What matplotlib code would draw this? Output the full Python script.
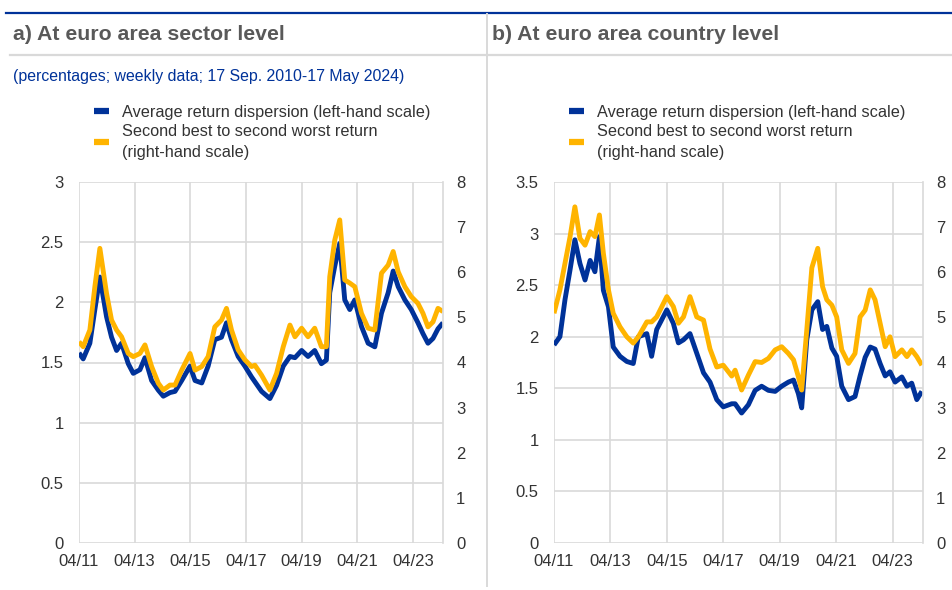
import matplotlib
matplotlib.use("Agg")
import matplotlib.pyplot as plt
from matplotlib.lines import Line2D

plt.rcParams['font.family'] = ['Liberation Sans', 'DejaVu Sans']

BLUE = "#003299"
YELLOW = "#ffb400"
GRID = "#d9d9d9"
TXT = "#333333"

# time axis in decimal years (weekly series, read at turning points)
sector_t = [2011.25, 2011.40, 2011.64, 2011.82, 2012.00, 2012.24, 2012.42, 2012.60, 2012.78,
            2013.02, 2013.20, 2013.44, 2013.62, 2013.86, 2014.10, 2014.28, 2014.52, 2014.70,
            2014.94, 2015.24, 2015.42, 2015.66, 2015.89, 2016.13, 2016.37, 2016.55, 2016.73,
            2016.97, 2017.21, 2017.45, 2017.57, 2017.81, 2018.11, 2018.35, 2018.59, 2018.83,
            2019.01, 2019.25, 2019.48, 2019.72, 2019.96, 2020.14, 2020.26, 2020.44, 2020.62,
            2020.80, 2020.98, 2021.16, 2021.40, 2021.64, 2021.88, 2022.12, 2022.36, 2022.54,
            2022.72, 2022.96, 2023.19, 2023.43, 2023.61, 2023.79, 2023.97, 2024.15, 2024.33]
sector_disp = [1.58, 1.53, 1.66, 1.94, 2.21, 1.88, 1.71, 1.60, 1.66, 1.49, 1.41, 1.44, 1.54,
               1.35, 1.27, 1.22, 1.25, 1.26, 1.35, 1.47, 1.35, 1.33, 1.47, 1.69, 1.71, 1.83,
               1.69, 1.55, 1.47, 1.38, 1.34, 1.26, 1.20, 1.31, 1.47, 1.55, 1.54, 1.60, 1.55,
               1.60, 1.49, 1.52, 2.08, 2.30, 2.49, 2.02, 1.94, 2.02, 1.80, 1.66, 1.63, 1.91,
               2.08, 2.26, 2.13, 2.02, 1.94, 1.83, 1.74, 1.66, 1.70, 1.78, 1.83]
sector_range = [4.46, 4.35, 4.72, 5.68, 6.53, 5.53, 4.94, 4.72, 4.57, 4.20, 4.13, 4.20, 4.39,
                3.91, 3.54, 3.39, 3.50, 3.50, 3.83, 4.20, 3.83, 3.91, 4.13, 4.79, 4.94, 5.20,
                4.72, 4.28, 4.06, 3.91, 3.94, 3.72, 3.39, 3.76, 4.35, 4.83, 4.57, 4.76, 4.57,
                4.76, 4.35, 4.35, 5.90, 6.71, 7.16, 5.83, 5.76, 5.68, 5.09, 4.76, 4.72, 5.98,
                6.16, 6.46, 6.01, 5.68, 5.46, 5.31, 5.09, 4.79, 4.90, 5.20, 5.13]

country_t = [2011.25, 2011.46, 2011.64, 2011.82, 2011.99, 2012.17, 2012.35, 2012.53, 2012.70,
             2012.86, 2013.00, 2013.18, 2013.35, 2013.59, 2013.83, 2014.06, 2014.24, 2014.54,
             2014.71, 2014.89, 2015.25, 2015.48, 2015.66, 2015.84, 2016.07, 2016.31, 2016.55,
             2016.78, 2017.02, 2017.25, 2017.55, 2017.67, 2017.90, 2018.14, 2018.38, 2018.61,
             2018.85, 2019.09, 2019.32, 2019.56, 2019.74, 2019.91, 2020.03, 2020.21, 2020.39,
             2020.60, 2020.77, 2020.92, 2021.10, 2021.27, 2021.45, 2021.69, 2021.92, 2022.10,
             2022.28, 2022.46, 2022.63, 2022.81, 2022.99, 2023.16, 2023.34, 2023.58, 2023.76,
             2023.93, 2024.11, 2024.29]
country_disp = [1.92, 2.00, 2.36, 2.65, 2.94, 2.71, 2.55, 2.74, 2.63, 2.97, 2.45, 2.29, 1.90,
                1.81, 1.76, 1.74, 2.00, 2.03, 1.81, 2.07, 2.26, 2.13, 1.94, 1.97, 2.03, 1.84,
                1.65, 1.56, 1.39, 1.32, 1.35, 1.35, 1.26, 1.34, 1.48, 1.52, 1.48, 1.47, 1.52,
                1.56, 1.58, 1.45, 1.31, 1.97, 2.26, 2.34, 2.07, 2.10, 1.89, 1.81, 1.52, 1.39,
                1.42, 1.62, 1.80, 1.90, 1.88, 1.74, 1.62, 1.66, 1.56, 1.61, 1.52, 1.55, 1.39,
                1.47]
country_range = [5.09, 5.61, 6.20, 6.79, 7.45, 6.75, 6.60, 6.90, 6.79, 7.27, 6.42, 5.61, 5.09,
                 4.79, 4.57, 4.43, 4.57, 4.90, 4.90, 5.01, 5.46, 5.24, 4.87, 5.01, 5.46, 5.01,
                 4.94, 4.30, 3.90, 3.94, 3.70, 3.83, 3.39, 3.72, 4.02, 4.00, 4.09, 4.28, 4.35,
                 4.20, 4.06, 3.69, 3.39, 4.72, 6.10, 6.53, 5.68, 5.39, 5.27, 5.01, 4.28, 3.98,
                 4.20, 5.01, 5.16, 5.61, 5.39, 4.87, 4.35, 4.57, 4.13, 4.28, 4.13, 4.28, 4.13,
                 3.94]

xticks = [2011.25, 2013.25, 2015.25, 2017.25, 2019.25, 2021.25, 2023.25]
xlabels = ["04/11", "04/13", "04/15", "04/17", "04/19", "04/21", "04/23"]
sector_yticks = [0, 0.5, 1, 1.5, 2, 2.5, 3]
country_yticks = [0, 0.5, 1, 1.5, 2, 2.5, 3, 3.5]
right_yticks = [0, 1, 2, 3, 4, 5, 6, 7, 8]

labels = ["Average return dispersion (left-hand scale)",
          "Second best to second worst return\n(right-hand scale)"]

W, H = 952, 590
fig = plt.figure(figsize=(W / 100, H / 100), dpi=100)


def fx(px):
    return px / W


def fy(py):
    return 1 - py / H


def panel(left, right, t, disp, rng, yticks):
    ax = fig.add_axes([fx(left), fy(543), fx(right - left), fy(182) - fy(543)])
    ax2 = ax.twinx()
    ax.set_zorder(ax2.get_zorder() - 1)
    ax.patch.set_visible(False)
    l1, = ax.plot(t, disp, color=BLUE, lw=3.5, solid_capstyle="butt")
    l2, = ax2.plot(t, rng, color=YELLOW, lw=3.5, solid_capstyle="butt")
    ax.set_xlim(2011.25, 2024.33)
    ax.set_ylim(0, yticks[-1])
    ax2.set_ylim(0, 8)
    ax.set_xticks(xticks)
    ax.set_xticklabels(xlabels)
    ax.set_yticks(yticks)
    ax.set_yticklabels(["%g" % v for v in yticks])
    ax2.set_yticks(right_yticks)
    ax.grid(True, color=GRID, lw=1.2)
    ax.set_axisbelow(True)
    for a in (ax, ax2):
        for s in a.spines.values():
            s.set_visible(False)
        a.tick_params(length=0, labelsize=12, labelcolor=TXT)
    ax2.spines["right"].set_visible(True)
    ax2.spines["right"].set_color(GRID)
    ax2.spines["right"].set_linewidth(1.2)
    ax.tick_params(axis="y", pad=11)
    ax.tick_params(axis="x", pad=8)
    ax2.tick_params(axis="y", pad=9.5)
    return l1, l2


la = panel(79, 443, sector_t, sector_disp, sector_range, sector_yticks)
lb = panel(554, 923, country_t, country_disp, country_range, country_yticks)

for handles, x0 in ((la, 94), (lb, 569)):
    leg = fig.legend(handles, labels, loc="upper left", bbox_to_anchor=(fx(x0), fy(104.5)),
                     frameon=False, fontsize=11.7, handlelength=0.9, handletextpad=0.85,
                     labelspacing=0.3, borderpad=0, borderaxespad=0)
    for h in leg.legend_handles:
        h.set_linewidth(4.5)
    for txt in leg.get_texts():
        txt.set_color(TXT)
        txt.set_linespacing(1.45)

# headers and frame lines
fig.add_artist(Line2D([fx(6), 1], [fy(13), fy(13)], color=BLUE, lw=1.6))
fig.add_artist(Line2D([fx(10), 1], [fy(54.5), fy(54.5)], color=GRID, lw=1.6))
fig.add_artist(Line2D([fx(487), fx(487)], [fy(14), fy(586)], color=GRID, lw=1.4))
fig.text(fx(13), fy(35), "a) At euro area sector level", fontsize=15.3, fontweight="bold",
         color="#595959", va="center")
fig.text(fx(492), fy(35), "b) At euro area country level", fontsize=15.3, fontweight="bold",
         color="#595959", va="center")
fig.text(fx(13), fy(76), "(percentages; weekly data; 17 Sep. 2010-17 May 2024)", fontsize=11.4,
         color=BLUE, va="center")

fig.savefig("out.png", dpi=100)
